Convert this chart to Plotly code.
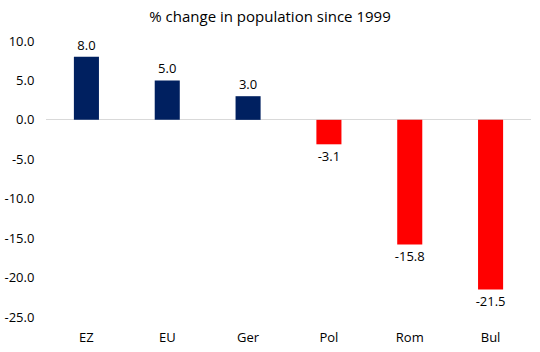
import plotly.graph_objects as go

categories = ["EZ", "EU", "Ger", "Pol", "Rom", "Bul"]
values = [8.0, 5.0, 3.0, -3.1, -15.8, -21.5]
tick_vals = [10, 5, 0, -5, -10, -15, -20, -25]

colors = ["#002060" if v >= 0 else "#FF0000" for v in values]

fig = go.Figure(go.Bar(
    x=categories, y=values,
    marker=dict(color=colors, line=dict(width=0)),
    text=[f"{v:.1f}" for v in values],
    textposition="outside",
    constraintext="none",
    textfont=dict(size=13, color="#000000"),
    cliponaxis=False,
))

font = "Open Sans"
fig.update_layout(
    width=540, height=352,
    margin=dict(l=46, r=9, t=41, b=35, autoexpand=False),
    paper_bgcolor="white", plot_bgcolor="white",
    font=dict(family=font, size=13, color="#000000"),
    title=dict(text="% change in population since 1999", x=0.5, xanchor="center",
               y=0.952, yanchor="middle", font=dict(size=15, color="#000000")),
    bargap=0.69,
    showlegend=False,
    xaxis=dict(showgrid=False, showline=False, ticks="outside", ticklen=8,
               tickcolor="rgba(0,0,0,0)", automargin=False),
    yaxis=dict(range=[-25, 10], tickvals=tick_vals,
               ticktext=[f"{v:.1f}" for v in tick_vals],
               showgrid=False, zeroline=True, zerolinecolor="#D9D9D9", zerolinewidth=1,
               ticks="outside", ticklen=8, tickcolor="rgba(0,0,0,0)", automargin=False),
)

fig.write_html("out.html")
